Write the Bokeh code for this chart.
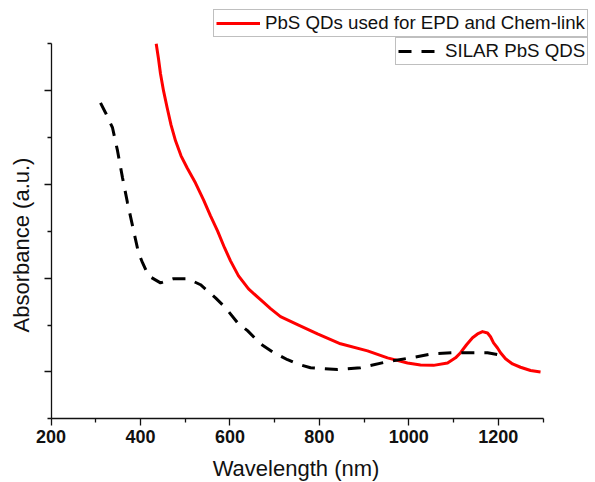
import math
from bokeh.plotting import figure
from bokeh.models import FixedTicker, Legend, LegendItem, Range1d, Label
from bokeh.embed import file_html
from bokeh.resources import INLINE

# PbS QDs used for EPD and Chem-link (wavelength nm, absorbance a.u.)
red_wl = [435.2, 440.3, 444.8, 451.5, 459.8, 468.3, 478.4, 490.7, 504.5, 523.1, 541.0, 556.6,
          572.3, 587.9, 601.3, 619.2, 641.6, 668.4, 690.8, 713.1, 751.1, 795.8, 847.3, 907.6,
          952.3, 997.1, 1026.1, 1055.2, 1086.5, 1104.4, 1115.6, 1129.0, 1142.4, 1153.6, 1164.7,
          1175.9, 1182.6, 1189.4, 1198.3, 1205.0, 1216.2, 1231.8, 1249.7, 1272.1, 1294.4]
red_abs = [8.0, 7.68, 7.36, 7.00, 6.63, 6.27, 5.93, 5.61, 5.35, 5.03, 4.67, 4.33,
           4.01, 3.65, 3.37, 3.05, 2.77, 2.54, 2.35, 2.18, 2.01, 1.81, 1.60, 1.45,
           1.30, 1.19, 1.15, 1.14, 1.19, 1.30, 1.41, 1.58, 1.73, 1.81, 1.86,
           1.83, 1.75, 1.62, 1.51, 1.41, 1.28, 1.17, 1.10, 1.03, 1.00]

# SILAR PbS QDS
silar_wl = [310.7, 321.9, 337.5, 348.7, 359.9, 371.0, 382.2, 395.6, 404.6, 418.0, 444.8,
            473.9, 505.2, 534.3, 567.8, 590.1, 617.0, 639.3, 668.4, 695.2, 728.8, 751.1,
            780.2, 809.3, 840.6, 892.0, 952.3, 1003.8, 1055.2, 1099.9, 1175.9, 1198.3]
silar_abs = [6.74, 6.53, 6.21, 5.72, 5.14, 4.61, 4.12, 3.54, 3.33, 3.05, 2.90,
             2.99, 2.99, 2.86, 2.58, 2.37, 2.05, 1.88, 1.60, 1.43, 1.26, 1.17,
             1.09, 1.07, 1.05, 1.09, 1.22, 1.30, 1.39, 1.41, 1.41, 1.37]

x_major = [200, 400, 600, 800, 1000, 1200]
x_minor = [300, 500, 700, 900, 1100, 1300]
x_bounds = (200, 1300)
y_major = [1, 3, 5, 7]
y_minor = [0, 2, 4, 6, 8]
y_bounds = (0, 8)

label_red = "PbS QDs used for EPD and Chem-link"
label_black = "SILAR PbS QDS"
x_title = "Wavelength (nm)"
y_title = "Absorbance (a.u.)"

FONT = "Liberation Sans"
INK = "#111111"

# The frame fills the whole canvas; axes sit at fixed locations with bounds,
# so that legends and titles outside the axes box are not clipped.
p = figure(width=595, height=482, output_backend="svg", toolbar_location=None,
           x_range=Range1d(87.1, 1417.3), y_range=Range1d(-1.359, 8.924),
           min_border_left=0, min_border_right=0, min_border_top=0, min_border_bottom=0)
p.outline_line_color = None
p.grid.visible = False
p.background_fill_color = "white"
p.border_fill_color = "white"

r1 = p.line(red_wl, red_abs, line_color="#ff0000", line_width=3, line_join="round")
r2 = p.line(silar_wl, silar_abs, line_color="black", line_width=3, line_dash="13 10")

for ax in (p.xaxis[0], p.yaxis[0]):
    ax.axis_line_color = INK
    ax.axis_line_width = 1.3
    ax.major_tick_line_color = INK
    ax.minor_tick_line_color = INK
    ax.major_tick_line_width = 1.3
    ax.minor_tick_line_width = 1.3
    ax.major_tick_in = 0
    ax.minor_tick_in = 0
    ax.major_tick_out = 7
    ax.minor_tick_out = 4

p.xaxis.fixed_location = 0
p.xaxis.bounds = x_bounds
p.xaxis.ticker = FixedTicker(ticks=x_major, minor_ticks=x_minor)
p.xaxis.major_label_text_font = FONT
p.xaxis.major_label_text_font_style = "bold"
p.xaxis.major_label_text_font_size = "18px"
p.xaxis.major_label_text_color = INK
p.xaxis.major_label_standoff = 4

p.yaxis.fixed_location = 200
p.yaxis.bounds = y_bounds
p.yaxis.ticker = FixedTicker(ticks=y_major, minor_ticks=y_minor)
p.yaxis.major_label_text_font_size = "0px"
p.yaxis.major_label_standoff = 0

p.add_layout(Label(x=295.5, y=14, x_units="screen", y_units="screen", text=x_title,
                   text_align="center", text_baseline="middle",
                   text_font=FONT, text_font_size="22px", text_color=INK))
p.add_layout(Label(x=21, y=237.5, x_units="screen", y_units="screen", text=y_title,
                   angle=math.pi / 2, text_align="center", text_baseline="middle",
                   text_font=FONT, text_font_size="22px", text_color=INK))


def make_legend(label, rend, loc, gw, standoff):
    return Legend(items=[LegendItem(label=label, renderers=[rend])], location=loc,
                  padding=2, spacing=0, margin=0, glyph_width=gw, glyph_height=18,
                  label_standoff=standoff, label_height=18,
                  label_text_font=FONT, label_text_font_size="18.7px",
                  label_text_color=INK,
                  border_line_color="#808080", border_line_width=1,
                  background_fill_color="white", background_fill_alpha=1.0)


p.add_layout(make_legend(label_red, r1, (213, 445), 44, 5))
p.add_layout(make_legend(label_black, r2, (395, 417), 38, 9))

open("out.html", "w").write(file_html(p, INLINE))
